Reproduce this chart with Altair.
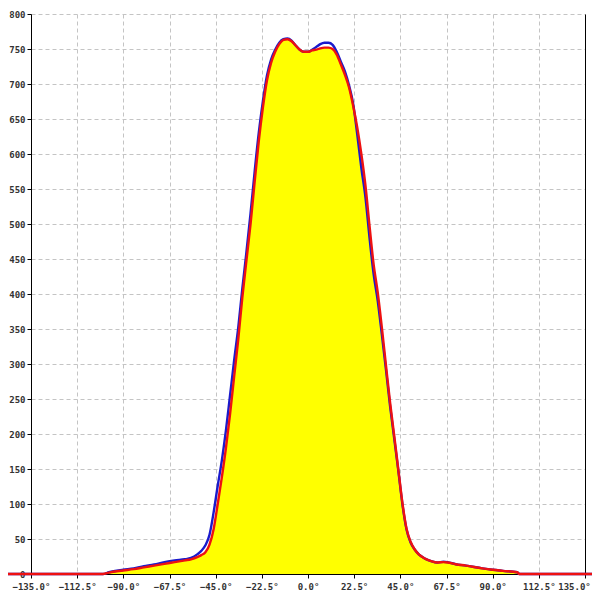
import altair as alt
import pandas as pd

angles = [-150, -100, -97, -90, -85, -80, -75, -70, -65, -60, -57, -54, -52, -50, -48, -46, -44, -42, -40,
          -38, -36, -34, -32, -30, -28, -26, -24, -22, -20, -18, -16, -14, -12, -10, -8, -6, -4, -2, 0,
          2, 4, 6, 8, 10, 12, 14, 16, 18, 20, 22, 24, 26, 28, 30, 32, 34, 36, 38, 40, 42, 44, 46, 48,
          50, 52, 54, 57, 60, 63, 66, 68, 72, 77, 85, 90, 95, 102, 103, 150]

red_vals = [0, 0, 2, 5, 7, 9.5, 12, 14.5, 17, 19.5, 21, 24, 27, 31, 42, 64, 100, 138, 180,
            228, 282, 335, 395, 448, 500, 560, 618, 666, 705, 730, 746, 757, 763, 764, 761, 755, 749, 746, 746,
            748, 749, 751, 752, 752, 750, 742, 728, 713, 695, 669, 638, 600, 555, 497, 442, 402, 352, 298, 245, 198, 150, 102, 65,
            46, 35, 28, 22, 18.5, 16.5, 17, 16.5, 14, 12, 8, 6, 4.5, 2.5, 0, 0]

blue_vals = [0, 0, 2.5, 6, 8, 11, 13.5, 17, 19.5, 21, 23, 28, 33, 41, 56, 88, 126, 162, 205,
             255, 305, 352, 408, 460, 515, 575, 630, 675, 712, 735, 749, 759, 764, 765, 762, 755, 749, 746, 746,
             749, 753, 757, 759, 759, 756, 746, 732, 718, 698, 672, 628, 580, 538, 480, 428, 390, 342, 292, 240, 194, 148, 100, 64,
             45, 35, 28, 22, 18.5, 16.5, 17.5, 17, 14, 12, 8, 6, 4.5, 2.5, 0, 0]

x_ticks = [-135, -112.5, -90, -67.5, -45, -22.5, 0, 22.5, 45, 67.5, 90, 112.5, 135]
y_ticks = list(range(0, 801, 50))

df = pd.DataFrame({"angle": angles, "red": red_vals, "blue": blue_vals})

FONT = "DejaVu Sans Mono"
x_scale = alt.Scale(domain=[-135, 135], nice=False, zero=False)
y_scale = alt.Scale(domain=[0, 800], nice=False)

x_axis = alt.Axis(values=x_ticks, labelExpr="format(datum.value, '.1f') + '°'", title=None,
                  grid=True, gridDash=[4, 3], gridColor="#c4c4c4", domainColor="black",
                  tickColor="black", tickSize=4, labelFont=FONT, labelFontSize=9, labelFontWeight="bold",
                  labelColor="#333333", labelPadding=4, labelFlush=False, labelOverlap=False,
                  labelOffset={"condition": {"test": "datum.value == 135", "value": -11}, "value": 0},
                  zindex=0)
y_axis = alt.Axis(values=y_ticks, format="d", title=None,
                  grid=True, gridDash=[4, 3], gridColor="#c4c4c4", domainColor="black",
                  tickColor="black", tickSize=4, labelFont=FONT, labelFontSize=9, labelFontWeight="bold",
                  labelColor="#333333", labelPadding=2, labelFlush=False, labelOverlap=False, zindex=0)

base = alt.Chart(df)

area = base.mark_area(color="#ffff00", interpolate="monotone").encode(
    x=alt.X("angle:Q", scale=x_scale, axis=x_axis),
    y=alt.Y("red:Q", scale=y_scale, axis=y_axis),
)
blue = base.mark_line(color="#1a1acc", strokeWidth=2.4, interpolate="monotone").encode(
    x=alt.X("angle:Q"),
    y=alt.Y("blue:Q", axis=None),
)
red = base.mark_line(color="#ee1111", strokeWidth=2.4, interpolate="monotone", clip=False).encode(
    x=alt.X("angle:Q"),
    y=alt.Y("red:Q", axis=alt.Axis(orient="right", labels=False, ticks=False, grid=False,
                                   domainColor="black", title=None, zindex=0)),
)

chart = alt.layer(area, blue, red).resolve_axis(y="independent").properties(
    width=554, height=560,
    autosize=alt.AutoSizeParams(type="none"),
    padding={"left": 23, "top": 6, "right": 7, "bottom": 18},
    background="white",
).configure_view(stroke=None)

chart.save("out.html", embed_options={"renderer": "svg", "actions": False})
